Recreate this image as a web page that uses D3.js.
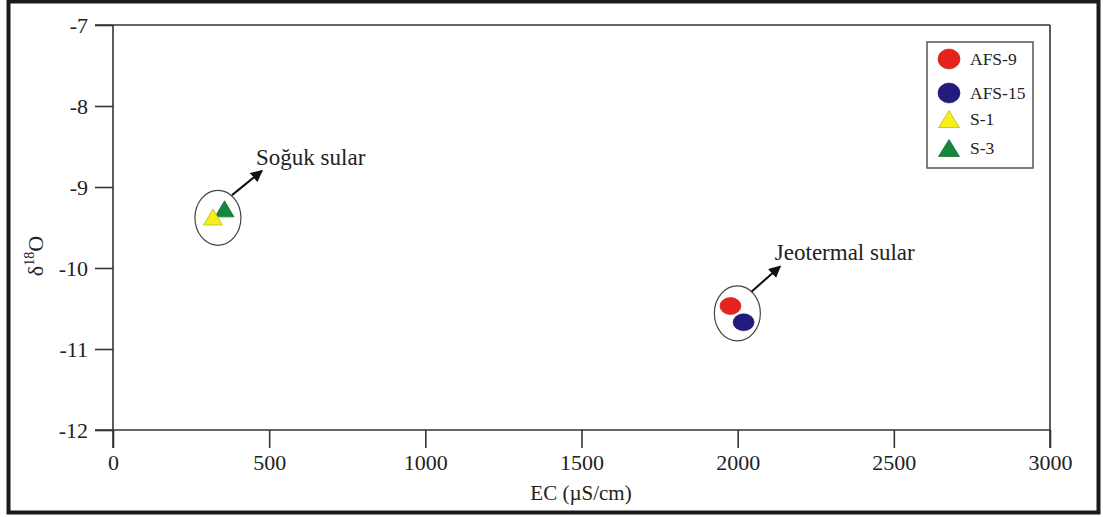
<!DOCTYPE html>
<html>
<head>
<meta charset="utf-8">
<script src="https://cdn.jsdelivr.net/npm/d3@7"></script>
<style>
  html, body { margin: 0; padding: 0; background: #fff; }
  svg { display: block; }
  text { font-family: "Liberation Serif", "Times New Roman", serif; fill: #222; }
</style>
</head>
<body>
<svg id="chart" width="1103" height="517"></svg>
<script>
// Samples: electrical conductivity (µS/cm) and δ18O (‰)
const samples = ["AFS-9", "AFS-15", "S-1", "S-3"];
const ecValues = [1977, 2019, 320, 357];
const d18oValues = [-10.47, -10.67, -9.37, -9.27];
const sampleShapes = ["circle", "circle", "triangle", "triangle"];
const sampleColors = ["#e4231e", "#221b7d", "#f6ee1a", "#13883b"];

// Axis ticks
const xTicks = [0, 500, 1000, 1500, 2000, 2500, 3000];
const yTicks = [-12, -11, -10, -9, -8, -7];

// Group annotations: ellipse centre, arrow start/end, label anchor (data units)
const groupLabels = ["Soğuk sular", "Jeotermal sular"];
const groupCentres = [[336, -9.38], [1999, -10.56]];
const arrowFrom = [[381, -9.10], [2045, -10.29]];
const arrowTo = [[477, -8.80], [2136, -9.98]];
const labelAt = [[458, -8.73], [2119, -9.90]];

const svg = d3.select("#chart");
const serif = '"Liberation Serif", "Times New Roman", serif';

const x = d3.scaleLinear().domain([0, 3000]).range([113, 1050]);
const y = d3.scaleLinear().domain([-12, -7]).range([430, 25]);

const axisColor = "#333";

// outer frame
svg.append("rect")
  .attr("x", 8.5).attr("y", 1.5)
  .attr("width", 1090).attr("height", 511)
  .attr("fill", "none").attr("stroke", "#1a1a1a").attr("stroke-width", 4);

// top and right border of the plot area
svg.append("line")
  .attr("x1", x(0) - 18).attr("x2", x(3000))
  .attr("y1", y(-7)).attr("y2", y(-7))
  .attr("stroke", axisColor).attr("stroke-width", 1.6);
svg.append("line")
  .attr("x1", x(3000)).attr("x2", x(3000))
  .attr("y1", y(-7)).attr("y2", y(-12) + 18)
  .attr("stroke", axisColor).attr("stroke-width", 1.6);

const plain = d => String(d);

// x axis
const gx = svg.append("g")
  .attr("transform", `translate(0,${y(-12)})`)
  .call(d3.axisBottom(x).tickValues(xTicks).tickSize(18).tickSizeOuter(0).tickPadding(6).tickFormat(plain));
gx.select(".domain").attr("d", `M${x(0) - 18},0H${x(3000)}`);

// y axis
const gy = svg.append("g")
  .attr("transform", `translate(${x(0)},0)`)
  .call(d3.axisLeft(y).tickValues(yTicks).tickSize(18).tickSizeOuter(0).tickPadding(7).tickFormat(plain));
gy.select(".domain").attr("d", `M0,${y(-7)}V${y(-12) + 18}`);

[gx, gy].forEach(g => {
  g.attr("font-family", serif).attr("font-size", 22);
  g.selectAll(".domain, .tick line").attr("stroke", axisColor).attr("stroke-width", 1.6);
  g.selectAll(".tick text")
    .attr("fill", "#222")
    .attr("font-family", serif)
    .attr("font-size", 22);
});
gy.selectAll(".tick text").attr("dy", "0.34em");

// axis titles
svg.append("text")
  .attr("x", 581).attr("y", 500)
  .attr("text-anchor", "middle")
  .style("font-size", "21px")
  .text("EC (µS/cm)");

const yTitle = svg.append("text")
  .attr("transform", "translate(43,256) rotate(-90)")
  .attr("text-anchor", "middle")
  .style("font-size", "22px");
yTitle.append("tspan").text("δ");
yTitle.append("tspan").attr("dy", -9).style("font-size", "14px").text("18");
yTitle.append("tspan").attr("dy", 9).text("O");

// group ellipses
svg.selectAll("ellipse.group")
  .data(groupCentres)
  .join("ellipse")
  .attr("class", "group")
  .attr("cx", d => x(d[0])).attr("cy", d => y(d[1]))
  .attr("rx", 23).attr("ry", 27.5)
  .attr("fill", "none").attr("stroke", "#444").attr("stroke-width", 1.2);

// arrows
svg.append("defs").append("marker")
  .attr("id", "arrowhead")
  .attr("viewBox", "0 0 10 10")
  .attr("refX", 9).attr("refY", 5)
  .attr("markerWidth", 6).attr("markerHeight", 6)
  .attr("markerUnits", "strokeWidth")
  .attr("orient", "auto")
  .append("path").attr("d", "M0,0L10,5L0,10Z").attr("fill", "#111");

svg.selectAll("line.arrow")
  .data(arrowFrom)
  .join("line")
  .attr("class", "arrow")
  .attr("x1", d => x(d[0])).attr("y1", d => y(d[1]))
  .attr("x2", (d, i) => x(arrowTo[i][0])).attr("y2", (d, i) => y(arrowTo[i][1]))
  .attr("stroke", "#111").attr("stroke-width", 2)
  .attr("marker-end", "url(#arrowhead)");

svg.selectAll("text.group")
  .data(groupLabels)
  .join("text")
  .attr("class", "group")
  .attr("x", (d, i) => x(labelAt[i][0])).attr("y", (d, i) => y(labelAt[i][1]))
  .style("font-size", "23px")
  .text(d => d);

// marker drawing helper
function triPath(w, h) {
  return `M0,${-h / 2}L${w / 2},${h / 2}L${-w / 2},${h / 2}Z`;
}
function drawMarker(g, shape, color, size) {
  if (shape === "circle") {
    g.append("ellipse")
      .attr("rx", size.rx).attr("ry", size.ry)
      .attr("fill", color).attr("stroke", d3.color(color).darker(0.6)).attr("stroke-width", 0.6);
  } else {
    g.append("path")
      .attr("d", triPath(size.w, size.h))
      .attr("fill", color).attr("stroke", d3.color(color).darker(0.8)).attr("stroke-width", 0.7);
  }
}

// sample points (green triangle behind yellow)
const order = [0, 1, 3, 2];
order.forEach(i => {
  const g = svg.append("g").attr("transform", `translate(${x(ecValues[i])},${y(d18oValues[i])})`);
  drawMarker(g, sampleShapes[i], sampleColors[i], { rx: 10.5, ry: 8.5, w: 19, h: 16 });
});

// legend
const legend = svg.append("g").attr("transform", "translate(927,42)");
legend.append("rect")
  .attr("width", 106).attr("height", 126)
  .attr("fill", "#fff").attr("stroke", "#555").attr("stroke-width", 1.5);
const rowY = [17, 51, 77, 106];
samples.forEach((s, i) => {
  const row = legend.append("g").attr("transform", `translate(22,${rowY[i]})`);
  drawMarker(row, sampleShapes[i], sampleColors[i], { rx: 11, ry: 10, w: 21, h: 17 });
  row.append("text")
    .attr("x", 21).attr("y", 6)
    .style("font-size", "17.5px")
    .text(s);
});
</script>
</body>
</html>
